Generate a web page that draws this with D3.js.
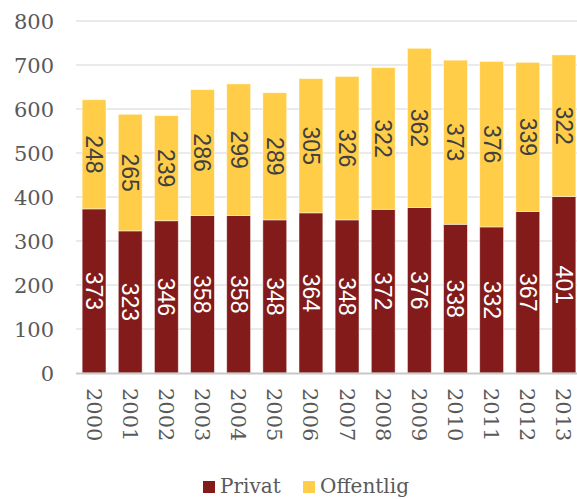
<!DOCTYPE html>
<html><head><meta charset="utf-8">
<script src="https://cdn.jsdelivr.net/npm/d3@7"></script>
<style>body{margin:0;background:#fff}svg{display:block}</style>
</head><body><svg id="c" width="577" height="499"></svg>
<script>
const years = ["2000","2001","2002","2003","2004","2005","2006","2007","2008","2009","2010","2011","2012","2013"];
const privat = [373,323,346,358,358,348,364,348,372,376,338,332,367,401];
const offentlig = [248,265,239,286,299,289,305,326,322,362,373,376,339,322];
const yTicks = [0,100,200,300,400,500,600,700,800];
const seriesNames = ["Privat","Offentlig"];

const svg = d3.select("#c");
const colors = {Privat:"#831B1B", Offentlig:"#FFCD47"};
const x = d3.scaleBand().domain(years).range([76, 582]).paddingInner(0.34).paddingOuter(0.17);
const y = d3.scaleLinear().domain([0,800]).range([373,21]);
const serif = "'DejaVu Serif', Georgia, serif";
const sans = "'Liberation Sans', Arial, sans-serif";

// gridlines
svg.append("g").selectAll("line").data(yTicks.filter(d=>d>0)).join("line")
  .attr("x1",76).attr("x2",577).attr("y1",d=>y(d)).attr("y2",d=>y(d))
  .attr("stroke","#e3e3e3").attr("stroke-width",1.5);

// y tick labels
svg.append("g").selectAll("text").data(yTicks).join("text")
  .attr("x",54).attr("y",d=>y(d)).attr("dy","0.36em").attr("text-anchor","end")
  .attr("font-family",serif).attr("font-size",21).attr("fill","#595959").text(d=>d);

const data = years.map((yr,i)=>({year:yr, Privat:privat[i], Offentlig:offentlig[i]}));
const stack = d3.stack().keys(seriesNames)(data);

const g = svg.append("g");
stack.forEach(s=>{
  g.selectAll(null).data(s).join("rect")
    .attr("x",d=>x(d.data.year)).attr("width",x.bandwidth())
    .attr("y",d=>y(d[1])).attr("height",d=>y(d[0])-y(d[1]))
    .attr("fill",colors[s.key]).attr("stroke","#fff").attr("stroke-opacity",0.6).attr("stroke-width",0.8);
  g.selectAll(null).data(s).join("text")
    .attr("transform",d=>`translate(${x(d.data.year)+x.bandwidth()/2},${(y(d[0])+y(d[1]))/2}) rotate(90)`)
    .attr("text-anchor","middle").attr("dy","0.35em")
    .attr("font-family",sans).attr("font-size",23)
    .attr("fill", s.key==="Privat" ? "#ffffff" : "#404040")
    .text(d=>d[1]-d[0]);
});

// x axis line
svg.append("line").attr("x1",76).attr("x2",577).attr("y1",y(0)+0.5).attr("y2",y(0)+0.5)
  .attr("stroke","#c8c8c8").attr("stroke-width",2);

// year labels
svg.append("g").selectAll("text").data(years).join("text")
  .attr("transform",d=>`translate(${x(d)+x.bandwidth()/2},388) rotate(90)`)
  .attr("text-anchor","start").attr("dy","0.36em")
  .attr("font-family",serif).attr("font-size",21).attr("fill","#595959").text(d=>d);

// legend
const leg = svg.append("g");
const legX = [203, 303];
seriesNames.forEach((k,i)=>{
  leg.append("rect").attr("x",legX[i]).attr("y",481).attr("width",12).attr("height",12).attr("fill",colors[k]);
  leg.append("text").attr("x",legX[i]+17).attr("y",493)
    .attr("font-family",serif).attr("font-size",20).attr("fill","#595959").text(k);
});
</script></body></html>
